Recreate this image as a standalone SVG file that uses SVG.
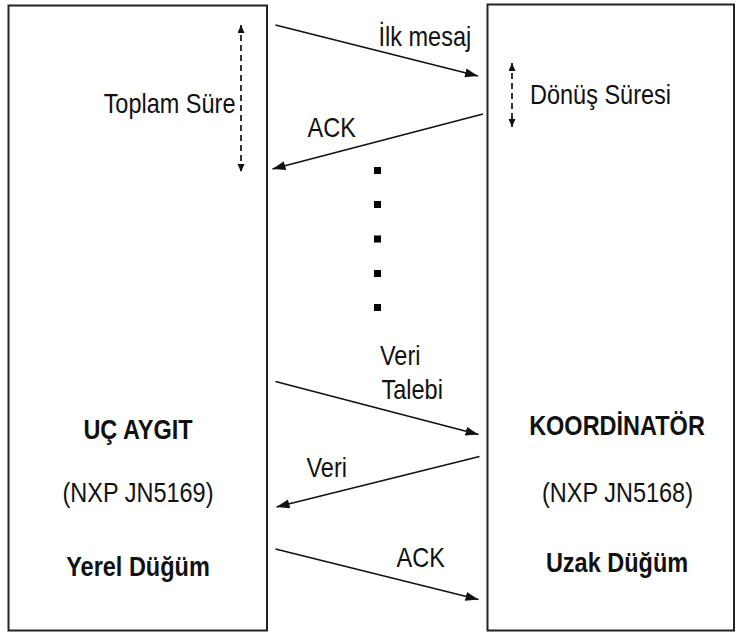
<svg xmlns="http://www.w3.org/2000/svg" width="736" height="634" viewBox="0 0 736 634">
<style>
.box{fill:#fff;stroke:#222;stroke-width:2}
.msg{stroke:#111;stroke-width:1.6;fill:none;marker-end:url(#ah)}
.dash{stroke:#111;stroke-width:1.7;fill:none;stroke-dasharray:6 4;marker-start:url(#sh);marker-end:url(#sh)}
text{font-family:"Liberation Sans",Arial,sans-serif;font-size:23.5px;fill:#111}
.b{font-weight:bold;text-anchor:middle}
.c{text-anchor:middle}
.dot{fill:#000}
</style>
<defs>
<marker id="ah" markerUnits="userSpaceOnUse" markerWidth="14" markerHeight="10" refX="13" refY="4.5" orient="auto">
<path d="M0,0 L13,4.5 L0,9 z" fill="#111"/>
</marker>
<marker id="sh" markerUnits="userSpaceOnUse" markerWidth="10" markerHeight="8" refX="8" refY="3.5" orient="auto-start-reverse">
<path d="M0,0 L8,3.5 L0,7 z" fill="#111"/>
</marker>
</defs>
<rect width="736" height="634" fill="#fff"/>
<g id="uc-aygit">
<rect class="box" x="8.5" y="5.5" width="258.5" height="625"/>
<text class="b" transform="translate(138,439) scale(1,1.15)">UÇ AYGIT</text>
<text class="c" transform="translate(138,502) scale(1,1.15)">(NXP JN5169)</text>
<text class="b" transform="translate(138,576) scale(1,1.15)">Yerel Düğüm</text>
</g>
<g id="koordinator">
<rect class="box" x="487.5" y="4.5" width="246.5" height="626"/>
<text class="b" transform="translate(617,435) scale(1,1.15)">KOORDİNATÖR</text>
<text class="c" transform="translate(617.5,502) scale(1,1.15)">(NXP JN5168)</text>
<text class="b" transform="translate(617,572) scale(1,1.15)">Uzak Düğüm</text>
</g>
<g id="connectors">
<line class="msg" x1="275.5" y1="25" x2="478" y2="76"/>
<line class="msg" x1="483" y1="114" x2="272.5" y2="169"/>
<line class="msg" x1="275.5" y1="381.5" x2="478.5" y2="434.5"/>
<line class="msg" x1="479.5" y1="456.5" x2="276.5" y2="507"/>
<line class="msg" x1="275.5" y1="549" x2="478.5" y2="599.5"/>
<line class="dash" x1="241" y1="25" x2="241" y2="172"/>
<line class="dash" x1="512" y1="63" x2="512" y2="127"/>
</g>
<g id="labels">
<text transform="translate(378.5,46) scale(1,1.15)">İlk mesaj</text>
<text transform="translate(235.5,113) scale(1,1.15)" text-anchor="end">Toplam Süre</text>
<text transform="translate(530,103.5) scale(1,1.15)">Dönüş Süresi</text>
<text transform="translate(307.5,137) scale(1,1.15)">ACK</text>
<text transform="translate(380,365) scale(1,1.15)">Veri</text>
<text transform="translate(381.5,399) scale(1,1.15)">Talebi</text>
<text transform="translate(306.5,477) scale(1,1.15)">Veri</text>
<text transform="translate(396.5,567) scale(1,1.15)">ACK</text>
</g>
<g id="dots">
<rect class="dot" x="374" y="167" width="7" height="7"/>
<rect class="dot" x="374" y="201" width="7" height="7"/>
<rect class="dot" x="374" y="235.5" width="7" height="7"/>
<rect class="dot" x="374" y="270" width="7" height="7"/>
<rect class="dot" x="374" y="304" width="7" height="7"/>
</g>
</svg>
